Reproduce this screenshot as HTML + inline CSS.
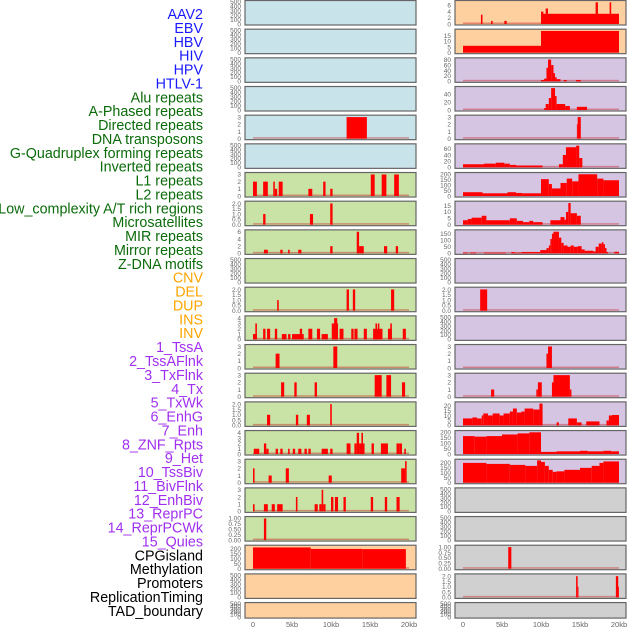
<!DOCTYPE html>
<html><head><meta charset="utf-8">
<style>
body{margin:0;background:#fff;}
svg{display:block;font-family:"Liberation Sans",sans-serif;}
</style></head>
<body>
<svg id="chart" width="630" height="630" viewBox="0 0 630 630" xmlns="http://www.w3.org/2000/svg">
<g id="labels"></g>
<g id="panels"></g>
<g id="xaxis"></g>
</svg>
<script>
// ---- data ----
const trackLabels = ["AAV2","EBV","HBV","HIV","HPV","HTLV-1","Alu repeats","A-Phased repeats","Directed repeats","DNA transposons","G-Quadruplex forming repeats","Inverted repeats","L1 repeats","L2 repeats","Low_complexity A/T rich regions","Microsatellites","MIR repeats","Mirror repeats","Z-DNA motifs","CNV","DEL","DUP","INS","INV","1_TssA","2_TssAFlnk","3_TxFlnk","4_Tx","5_TxWk","6_EnhG","7_Enh","8_ZNF_Rpts","9_Het","10_TssBiv","11_BivFlnk","12_EnhBiv","13_ReprPC","14_ReprPCWk","15_Quies","CPGisland","Methylation","Promoters","ReplicationTiming","TAD_boundary"];
const labelGroups = [6,13,5,15,5];
const groupColors = ["#1a1aff","#0b6b0b","#ffa500","#a030f0","#000000"];
const xTickValues = [0,5,10,15,20];
const xTickLabels = ["0","5kb","10kb","15kb","20kb"];

const T500=[0,100,200,300,400,500], T3=[0,1,2,3], T2=[0,0.5,1,1.5,2], T6=[0,2,4,6], T4=[0,1,2,3,4], T1=[0,0.25,0.5,0.75,1], T200=[0,50,100,150,200];
const T1L=["0.00","0.25","0.50","0.75","1.00"], T2L=["0.0","0.5","1.0","1.5","2.0"];

const leftMax=[500,500,500,500,3.1,500,3.1,2.1,6.2,500,2.1,4.2,3.1,3.1,2.1,4.2,3.1,3.1,1.03,225,500,500];
const leftTicks=[T500,T500,T500,T500,T3,T500,T3,T2,T6,T500,T2,T4,T3,T3,T2,T4,T3,T3,T1,T200,T500,T500];
const leftEmpty=[1,1,1,1,0,1,0,0,0,1,0,0,0,0,0,0,0,0,0,0,1,1];
const leftSeries=[
[],[],[],[],
[[12.0,14.6,3]],
[],
[[0,0.5,2],[1.3,1.9,2],[2.6,2.8,2],[2.8,3.1,1],[3.3,3.8,2],[7.1,7.6,1],[9.0,9.3,2],[9.9,10.2,1],[15.1,15.6,3],[16.5,17.1,3],[18.1,18.7,3]],
[[1.3,1.6,1],[7.3,7.7,1],[9.9,10.2,2]],
[[1.4,1.9,1],[3.5,3.8,1],[4.5,4.7,1],[5.8,6.2,1],[9.9,10.2,2],[13.3,13.6,6],[13.6,14.2,2],[16.8,17.2,2],[18.3,18.6,2]],
[],
[[3.1,3.3,1],[12.0,12.3,2],[12.8,13.1,2],[17.7,18.1,2]],
[[0,0.5,1],[0.3,0.5,3],[1.3,1.6,2],[1.8,2.2,2],[2.8,3.1,2],[3.7,4.3,1],[4.5,4.8,1],[5.0,6.5,1],[6.0,6.3,2],[7.1,7.6,2],[8.2,8.6,2],[8.8,9.6,1],[10.1,10.9,3],[10.4,10.8,4],[11.1,11.6,2],[12.6,12.9,2],[13.0,13.4,2],[14.2,14.6,2],[15.4,16.6,2],[15.7,15.9,3],[16.0,16.2,3],[17.3,17.8,2],[17.6,17.8,3],[19.2,19.6,2]],
[[2.9,3.4,2],[10.3,10.8,3]],
[[3.6,4.0,2],[5.3,5.6,2],[7.9,8.2,2],[15.6,16.5,3],[17.1,17.7,3],[19.1,19.5,2]],
[[1.8,2.2,1],[5.5,5.8,1],[6.9,7.3,1],[9.9,10.1,2]],
[[0.1,0.8,1],[1.4,1.7,2],[1.7,2.0,1],[2.9,3.2,1],[3.5,3.8,1],[4.5,4.7,1],[5.1,5.4,1],[5.8,6.2,1],[6.6,6.9,1],[7.1,7.4,1],[8.8,9.6,1],[9.9,10.2,1],[12.0,12.5,2],[13.0,13.3,2],[13.3,13.6,4],[13.6,14.0,2],[13.9,14.1,4],[14.0,14.3,2],[15.2,15.5,2],[16.4,17.3,2],[18.4,18.8,2],[18.8,19.1,2],[19.4,19.6,1]],
[[0,0.2,2],[2.0,2.4,1],[4.2,4.6,2],[9.7,10.1,1],[19.0,19.5,2],[19.5,19.7,3]],
[[0,0.2,1],[1.4,1.9,1],[2.4,2.8,1],[3.1,3.8,1],[5.5,5.7,2],[7.9,8.3,1],[8.5,8.8,1],[8.8,9.0,3],[9.0,9.3,1],[10.0,10.3,2],[10.5,10.9,2],[11.6,11.9,2],[15.1,15.4,2],[16.9,17.2,2],[18.4,18.8,2]],
[[1.4,1.7,1]],
[[0,7.4,215],[7.4,14.0,200],[14.0,19.6,198]],
[],[]
];

const rightMax=[7.2,19.5,82,56,3.1,72,205,17.5,170,500,2.1,500,3.1,3.1,22.5,205,225,500,500,1.03,2.1,500];
const rightTicks=[T6,[0,5,10,15],[0,20,40,60,80],[0,20,40],T3,[0,20,40,60],T200,[0,5,10,15],[0,50,100,150],T500,T2,T500,T3,T3,[0,5,10,15,20],T200,T200,T500,T500,T1,T2,T500];
const rightEmpty=[0,0,0,0,0,0,0,0,0,1,0,1,0,0,0,0,0,1,1,0,0,1];
const rightSeries=[
[[2.3,2.5,3],[3.6,3.8,1],[5.3,5.6,1],[10.0,20,3.3],[10.0,10.3,4],[10.6,10.9,5],[17.0,17.3,7],[18.8,19.0,7]],
[[0,10,6],[10,20,19]],
[[10.0,10.4,5],[10.4,10.7,10],[10.7,10.9,50],[10.9,11.3,80],[11.3,11.6,60],[11.6,11.8,30],[11.8,12.0,15],[12.0,12.5,8],[12.9,13.3,5],[14.5,15.1,5]],
[[10.4,10.6,5],[10.6,11.0,15],[11.0,11.3,30],[11.3,11.8,55],[11.8,12.0,35],[12.0,13.1,15],[13.1,13.7,10],[14.6,15.9,8]],
[[14.6,14.7,2],[14.7,15.1,3]],
[[0,2.7,10],[2.7,4.2,12],[4.2,5.3,15],[5.3,6.0,12],[6.0,6.8,8],[6.8,10.2,6],[12.3,12.8,10],[12.8,13.2,40],[13.2,14.5,65],[14.5,14.9,70],[14.9,15.3,30]],
[[0,2.5,35],[2.5,5.7,25],[5.7,6.8,35],[6.8,7.6,28],[7.6,10.0,25],[10.0,11.0,155],[11.0,11.4,110],[11.4,12.5,70],[12.5,13.3,120],[13.3,14.0,160],[14.0,14.8,135],[14.8,17.2,200],[17.2,18.0,160],[18.0,20,145]],
[[0,0.6,3.5],[0.6,1.1,4.5],[1.1,2.4,5.5],[2.4,3.0,7],[3.0,6.0,3.5],[6.0,6.9,5],[6.9,7.7,3],[7.7,8.5,2],[8.5,9.0,3],[9.0,10.2,2],[11.2,12.5,3.5],[12.5,13.0,6],[13.0,13.2,4],[13.2,13.5,10],[13.5,13.8,17],[13.8,14.6,9],[14.6,15.1,7]],
[[0,0.6,5],[0.9,1.7,5],[2.7,5.5,5],[6.2,6.6,10],[6.6,7.5,5],[7.5,9.9,10],[9.9,10.7,25],[10.7,11.0,40],[11.0,11.2,60],[11.2,11.4,110],[11.4,11.6,150],[11.6,12.3,165],[12.3,12.6,120],[12.6,12.9,80],[12.9,13.4,60],[13.4,13.8,50],[13.8,14.2,60],[14.2,14.7,50],[14.7,15.2,55],[15.2,15.6,30],[15.6,16.7,20],[16.7,17.0,15],[17.0,17.4,50],[17.4,17.8,75],[17.8,18.0,85],[18.0,18.2,70],[18.2,18.4,40],[18.4,18.6,10],[19.4,20,12]],
[],
[[2.2,3.1,2]],
[],
[[10.7,10.9,2],[10.9,11.4,3]],
[[3.6,4.0,1],[9.4,9.6,1],[9.6,10.1,2],[11.4,11.6,2],[11.6,13.7,3],[13.7,13.9,1]],
[[0,1.2,7],[1.2,1.8,8],[1.8,2.4,7],[2.4,2.6,10],[2.6,3.2,12],[3.2,3.8,10],[3.8,4.7,12],[4.7,5.2,10],[5.2,6.0,12],[6.0,6.4,14],[6.4,6.9,17],[6.9,7.5,13],[7.5,7.9,14],[7.9,9.0,17],[9.0,9.8,16],[9.8,10.2,22],[12.0,12.3,3],[13.5,14.6,7],[14.6,15.2,3],[15.8,17.5,4],[18.4,18.7,5],[18.7,19.1,10],[19.1,20,10.5]],
[[0,1.5,165],[1.5,3,160],[3,5,165],[5,7,180],[7,8.5,190],[8.5,10,200],[10,12,20],[12,15,25],[15,16,30],[16,18,25],[18,19,30],[19,20,25]],
[[0,3,200],[3,6,190],[6,8,180],[8,9.5,170],[9.5,10,225],[10,10.5,210],[10.5,11,170],[11,11.5,130],[11.5,12,110],[12,13,115],[13,15,130],[15,16.5,150],[16.5,17.5,170],[17.5,18,200],[18,20,215]],
[],[],
[[5.8,6.2,1]],
[[14.5,14.7,2],[14.7,14.8,1],[19.6,19.9,2],[19.9,20.0,1]],
[]
];

const leftBg=i=> i<6?"#c8e3ea":(i<19?"#c9e2a5":"#ffd09f");
const rightBg=i=> i<2?"#ffd09f":(i<17?"#d5c5e2":"#d0d0d0");

// ---- drawing ----
const NS="http://www.w3.org/2000/svg";
function mk(tag,attrs,parent){const e=document.createElementNS(NS,tag);for(const k in attrs)e.setAttribute(k,attrs[k]);parent.appendChild(e);return e;}

const lab=document.getElementById('labels');
let gi=0,cnt=0;
trackLabels.forEach((t,i)=>{
  while(cnt>=labelGroups[gi]){cnt=0;gi++;}
  cnt++;
  const e=mk('text',{x:203,y:19+i*13.88,'text-anchor':'end','font-size':14.3,fill:groupColors[gi]},lab);
  e.textContent=t;
  
  
});

const panels=document.getElementById('panels');
const cols=[{x0:245,x1:416,z:253,t:409,series:leftSeries,max:leftMax,ticks:leftTicks,empty:leftEmpty,bg:leftBg,name:'left'},
            {x0:455,x1:626,z:463,t:619,series:rightSeries,max:rightMax,ticks:rightTicks,empty:rightEmpty,bg:rightBg,name:'right'}];
function tickLabel(ticks,v){
  if(ticks===T1) return T1L[ticks.indexOf(v)];
  if(ticks===T2) return T2L[ticks.indexOf(v)];
  return String(v);
}
cols.forEach(c=>{
  const xs=kb=>c.z+(kb/20)*(c.t-c.z);
  for(let i=0;i<22;i++){
    const top=i*28.67+0.5, h=(i===21?15.5:24.5);
    const g=mk('g',{},panels);
    
    
    mk('rect',{x:c.x0,y:top,width:c.x1-c.x0,height:h,fill:c.bg(i)},g);
    const y0=top+h-1, y1=top+1.2;
    const ys=v=>y0-(v/c.max[i])*(y0-y1);
    if(!c.empty[i]){
      const bl=mk('rect',{x:c.z,y:y0-1.5,width:c.t-c.z,height:1.5,fill:'rgba(200,40,40,0.45)'},g);
      
      
    }
    c.series[i].forEach(s=>{
      const r=mk('rect',{x:xs(s[0]),y:ys(s[2]),width:Math.max(0.8,xs(s[1])-xs(s[0])),height:y0-ys(s[2]),fill:'#ff0000'},g);
      
      
    });
    mk('rect',{x:c.x0,y:top,width:c.x1-c.x0,height:h,fill:'none',stroke:'#666','stroke-width':1.2},g);
    c.ticks[i].forEach(v=>{
      const tt=mk('text',{x:c.x0-4,y:ys(v)+2.3,'text-anchor':'end','font-size':6.5,fill:'#666'},g);
      tt.textContent=tickLabel(c.ticks[i],v);
      
      
    });
  }
  const xa=document.getElementById('xaxis');
  xTickValues.forEach((v,k)=>{
    const tt=mk('text',{x:xs(v),y:627,'text-anchor':'middle','font-size':7.5,fill:'#666'},xa);
    tt.textContent=xTickLabels[k];
    
    
  });
});
</script>
</body></html>
